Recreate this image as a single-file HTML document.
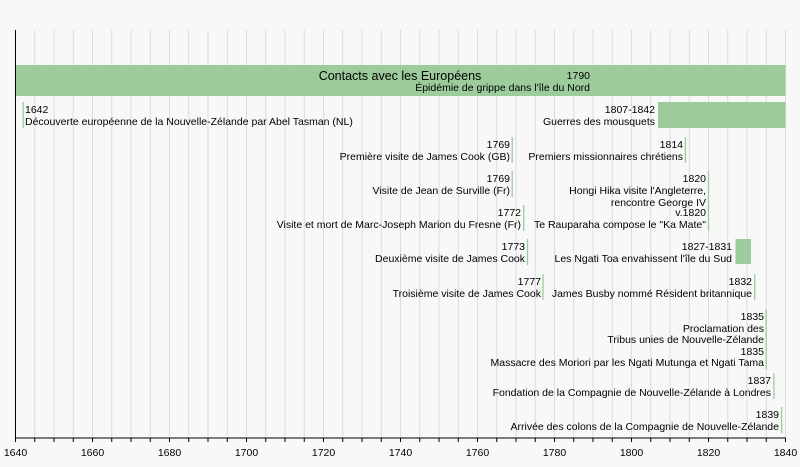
<!DOCTYPE html>
<html><head><meta charset="utf-8"><style>
html,body{margin:0;padding:0;background:#f8f8f8;}
svg{display:block;font-family:"Liberation Sans",sans-serif;}
</style></head><body>
<svg width="800" height="467" viewBox="0 0 800 467" xmlns="http://www.w3.org/2000/svg">
<rect width="800" height="467" fill="#f8f8f8"/>
<g stroke="#dcdcdc" stroke-width="1">
<line x1="34.75" y1="30" x2="34.75" y2="438"/><line x1="54" y1="30" x2="54" y2="438"/><line x1="73.25" y1="30" x2="73.25" y2="438"/><line x1="92.5" y1="30" x2="92.5" y2="438"/><line x1="111.75" y1="30" x2="111.75" y2="438"/><line x1="131" y1="30" x2="131" y2="438"/><line x1="150.25" y1="30" x2="150.25" y2="438"/><line x1="169.5" y1="30" x2="169.5" y2="438"/><line x1="188.75" y1="30" x2="188.75" y2="438"/><line x1="208" y1="30" x2="208" y2="438"/><line x1="227.25" y1="30" x2="227.25" y2="438"/><line x1="246.5" y1="30" x2="246.5" y2="438"/><line x1="265.75" y1="30" x2="265.75" y2="438"/><line x1="285" y1="30" x2="285" y2="438"/><line x1="304.25" y1="30" x2="304.25" y2="438"/><line x1="323.5" y1="30" x2="323.5" y2="438"/><line x1="342.75" y1="30" x2="342.75" y2="438"/><line x1="362" y1="30" x2="362" y2="438"/><line x1="381.25" y1="30" x2="381.25" y2="438"/><line x1="400.5" y1="30" x2="400.5" y2="438"/><line x1="419.75" y1="30" x2="419.75" y2="438"/><line x1="439" y1="30" x2="439" y2="438"/><line x1="458.25" y1="30" x2="458.25" y2="438"/><line x1="477.5" y1="30" x2="477.5" y2="438"/><line x1="496.75" y1="30" x2="496.75" y2="438"/><line x1="516" y1="30" x2="516" y2="438"/><line x1="535.25" y1="30" x2="535.25" y2="438"/><line x1="554.5" y1="30" x2="554.5" y2="438"/><line x1="573.75" y1="30" x2="573.75" y2="438"/><line x1="593" y1="30" x2="593" y2="438"/><line x1="612.25" y1="30" x2="612.25" y2="438"/><line x1="631.5" y1="30" x2="631.5" y2="438"/><line x1="650.75" y1="30" x2="650.75" y2="438"/><line x1="670" y1="30" x2="670" y2="438"/><line x1="689.25" y1="30" x2="689.25" y2="438"/><line x1="708.5" y1="30" x2="708.5" y2="438"/><line x1="727.75" y1="30" x2="727.75" y2="438"/><line x1="747" y1="30" x2="747" y2="438"/><line x1="766.25" y1="30" x2="766.25" y2="438"/><line x1="785.5" y1="30" x2="785.5" y2="438"/>
</g>
<rect x="15.5" y="65" width="770" height="31" fill="#9ccc9c"/>
<g fill="#9ccc9c">
<rect x="658" y="102" width="127.5" height="26"/>
<rect x="735.5" y="239" width="15.5" height="25"/>
</g>
<g stroke="#9ccc9c" stroke-width="1.3">
<line x1="23.2" y1="102" x2="23.2" y2="128"/>
<line x1="512.2" y1="137" x2="512.2" y2="163"/>
<line x1="685.4" y1="137" x2="685.4" y2="163"/>
<line x1="512.2" y1="171" x2="512.2" y2="197"/>
<line x1="708.5" y1="171" x2="708.5" y2="209"/>
<line x1="523.7" y1="205" x2="523.7" y2="231"/>
<line x1="708.5" y1="205" x2="708.5" y2="231"/>
<line x1="527.5" y1="239" x2="527.5" y2="265"/>
<line x1="543" y1="274" x2="543" y2="300"/>
<line x1="754.7" y1="274" x2="754.7" y2="300"/>
<line x1="766.2" y1="309" x2="766.2" y2="369"/>
<line x1="773.9" y1="373" x2="773.9" y2="399"/>
<line x1="781.6" y1="407" x2="781.6" y2="433"/>
</g>
<line x1="15.5" y1="30" x2="15.5" y2="438" stroke="#000"/>
<line x1="15" y1="438" x2="786" y2="438" stroke="#000"/>
<g stroke="#000">
<line x1="15.5" y1="438" x2="15.5" y2="442"/><line x1="34.75" y1="438" x2="34.75" y2="442"/><line x1="54" y1="438" x2="54" y2="442"/><line x1="73.25" y1="438" x2="73.25" y2="442"/><line x1="92.5" y1="438" x2="92.5" y2="442"/><line x1="111.75" y1="438" x2="111.75" y2="442"/><line x1="131" y1="438" x2="131" y2="442"/><line x1="150.25" y1="438" x2="150.25" y2="442"/><line x1="169.5" y1="438" x2="169.5" y2="442"/><line x1="188.75" y1="438" x2="188.75" y2="442"/><line x1="208" y1="438" x2="208" y2="442"/><line x1="227.25" y1="438" x2="227.25" y2="442"/><line x1="246.5" y1="438" x2="246.5" y2="442"/><line x1="265.75" y1="438" x2="265.75" y2="442"/><line x1="285" y1="438" x2="285" y2="442"/><line x1="304.25" y1="438" x2="304.25" y2="442"/><line x1="323.5" y1="438" x2="323.5" y2="442"/><line x1="342.75" y1="438" x2="342.75" y2="442"/><line x1="362" y1="438" x2="362" y2="442"/><line x1="381.25" y1="438" x2="381.25" y2="442"/><line x1="400.5" y1="438" x2="400.5" y2="442"/><line x1="419.75" y1="438" x2="419.75" y2="442"/><line x1="439" y1="438" x2="439" y2="442"/><line x1="458.25" y1="438" x2="458.25" y2="442"/><line x1="477.5" y1="438" x2="477.5" y2="442"/><line x1="496.75" y1="438" x2="496.75" y2="442"/><line x1="516" y1="438" x2="516" y2="442"/><line x1="535.25" y1="438" x2="535.25" y2="442"/><line x1="554.5" y1="438" x2="554.5" y2="442"/><line x1="573.75" y1="438" x2="573.75" y2="442"/><line x1="593" y1="438" x2="593" y2="442"/><line x1="612.25" y1="438" x2="612.25" y2="442"/><line x1="631.5" y1="438" x2="631.5" y2="442"/><line x1="650.75" y1="438" x2="650.75" y2="442"/><line x1="670" y1="438" x2="670" y2="442"/><line x1="689.25" y1="438" x2="689.25" y2="442"/><line x1="708.5" y1="438" x2="708.5" y2="442"/><line x1="727.75" y1="438" x2="727.75" y2="442"/><line x1="747" y1="438" x2="747" y2="442"/><line x1="766.25" y1="438" x2="766.25" y2="442"/><line x1="785.5" y1="438" x2="785.5" y2="442"/>
</g>
<g font-size="10.5" fill="#000" text-anchor="middle">
<text x="15.5" y="456">1640</text><text x="92.5" y="456">1660</text><text x="169.5" y="456">1680</text><text x="246.5" y="456">1700</text><text x="323.5" y="456">1720</text><text x="400.5" y="456">1740</text><text x="477.5" y="456">1760</text><text x="554.5" y="456">1780</text><text x="631.5" y="456">1800</text><text x="708.5" y="456">1820</text><text x="785.5" y="456">1840</text>
</g>
<text x="400" y="80" font-size="12.5" text-anchor="middle">Contacts avec les Européens</text>
<g font-size="10.5" fill="#000" text-anchor="end">
<text x="590" y="79">1790</text>
<text x="590" y="91">Épidémie de grippe dans l'île du Nord</text>
<text x="655" y="113">1807-1842</text>
<text x="655" y="125">Guerres des mousquets</text>
<text x="510" y="148">1769</text>
<text x="510" y="160">Première visite de James Cook (GB)</text>
<text x="683" y="148">1814</text>
<text x="683" y="160">Premiers missionnaires chrétiens</text>
<text x="510" y="182">1769</text>
<text x="510" y="194">Visite de Jean de Surville (Fr)</text>
<text x="706" y="182">1820</text>
<text x="706" y="194">Hongi Hika visite l'Angleterre,</text>
<text x="706" y="206">rencontre George IV</text>
<text x="521" y="216">1772</text>
<text x="521" y="228">Visite et mort de Marc-Joseph Marion du Fresne (Fr)</text>
<text x="706" y="216">v.1820</text>
<text x="706" y="228">Te Rauparaha compose le "Ka Mate"</text>
<text x="525" y="250">1773</text>
<text x="525" y="262">Deuxième visite de James Cook</text>
<text x="732" y="250">1827-1831</text>
<text x="732" y="262">Les Ngati Toa envahissent l'île du Sud</text>
<text x="541" y="285">1777</text>
<text x="541" y="297">Troisième visite de James Cook</text>
<text x="752" y="285">1832</text>
<text x="752" y="297">James Busby nommé Résident britannique</text>
<text x="764" y="320">1835</text>
<text x="764" y="332">Proclamation des</text>
<text x="764" y="343">Tribus unies de Nouvelle-Zélande</text>
<text x="764" y="355">1835</text>
<text x="764" y="366">Massacre des Moriori par les Ngati Mutunga et Ngati Tama</text>
<text x="771" y="384">1837</text>
<text x="771" y="396">Fondation de la Compagnie de Nouvelle-Zélande à Londres</text>
<text x="779" y="418">1839</text>
<text x="779" y="430">Arrivée des colons de la Compagnie de Nouvelle-Zélande</text>
</g>
<g font-size="10.5" fill="#000">
<text x="25" y="113">1642</text>
<text x="25" y="125">Découverte européenne de la Nouvelle-Zélande par Abel Tasman (NL)</text>
</g>
</svg>
</body></html>
